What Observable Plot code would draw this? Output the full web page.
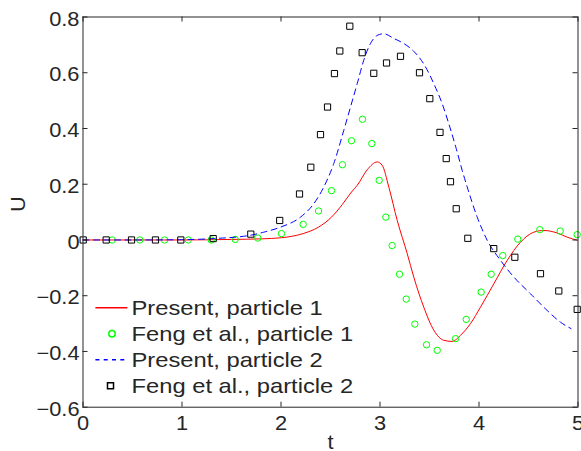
<!DOCTYPE html>
<html><head><meta charset="utf-8">
<script src="https://cdn.jsdelivr.net/npm/d3@7"></script>
<script src="https://cdn.jsdelivr.net/npm/@observablehq/plot@0.6"></script>
<style>html,body{margin:0;padding:0;background:#fff;}</style>
</head><body><div id="chart"></div>
<script>
// Present, particle 1 (red solid)
const redT = [0, 0.5, 1.0, 1.5, 1.8, 2.005, 2.224, 2.379, 2.51, 2.621, 2.712, 2.77, 2.871, 2.972, 3.022, 3.089, 3.174, 3.275, 3.341, 3.442, 3.544, 3.644, 3.729, 3.813, 3.914, 4.015, 4.15, 4.285, 4.419, 4.554, 4.655, 4.79, 4.891, 4.992];
const redU = [0, 0, 0.0, 0.002, 0.004, 0.008, 0.023, 0.046, 0.082, 0.128, 0.172, 0.196, 0.252, 0.28, 0.268, 0.19, 0.07, -0.049, -0.133, -0.241, -0.324, -0.36, -0.364, -0.342, -0.3, -0.241, -0.157, -0.073, -0.008, 0.028, 0.034, 0.025, 0.01, -0.001];
// Present, particle 2 (blue dashed)
const blueT = [0, 0.5, 1.0, 1.315, 1.692, 1.826, 1.995, 2.197, 2.331, 2.432, 2.533, 2.634, 2.702, 2.77, 2.836, 2.904, 2.972, 3.038, 3.139, 3.24, 3.341, 3.45, 3.543, 3.628, 3.695, 3.77, 3.83, 3.881, 3.982, 4.083, 4.217, 4.352, 4.52, 4.689, 4.823, 4.93];
const blueU = [0, 0, 0.001, 0.005, 0.017, 0.028, 0.046, 0.082, 0.13, 0.19, 0.274, 0.393, 0.477, 0.561, 0.645, 0.705, 0.734, 0.74, 0.723, 0.705, 0.677, 0.627, 0.561, 0.489, 0.417, 0.328, 0.25, 0.19, 0.082, -0.001, -0.073, -0.133, -0.193, -0.253, -0.295, -0.318];
// Feng et al., particle 1 (green circles)
const feng1T = [0.295, 0.574, 0.823, 1.063, 1.295, 1.537, 1.766, 2.005, 2.224, 2.379, 2.51, 2.621, 2.712, 2.823, 2.917, 2.992, 3.059, 3.123, 3.197, 3.265, 3.352, 3.47, 3.578, 3.763, 3.871, 4.022, 4.123, 4.24, 4.392, 4.614, 4.82, 4.992];
const feng1U = [0, 0, 0, 0, 0, 0.002, 0.007, 0.023, 0.056, 0.104, 0.177, 0.27, 0.356, 0.433, 0.346, 0.214, 0.082, -0.02, -0.123, -0.212, -0.302, -0.376, -0.396, -0.354, -0.285, -0.187, -0.123, -0.056, 0.003, 0.037, 0.032, 0.019];
// Feng et al., particle 2 (black squares)
const feng2T = [0.002, 0.234, 0.49, 0.732, 0.988, 1.315, 1.695, 1.987, 2.187, 2.301, 2.399, 2.47, 2.54, 2.594, 2.695, 2.82, 2.937, 3.066, 3.207, 3.399, 3.503, 3.606, 3.669, 3.712, 3.77, 3.887, 4.149, 4.362, 4.621, 4.806, 4.992];
const feng2U = [0, 0, 0, 0, 0, 0.005, 0.021, 0.07, 0.165, 0.261, 0.378, 0.477, 0.597, 0.678, 0.767, 0.672, 0.598, 0.635, 0.659, 0.6, 0.507, 0.386, 0.292, 0.209, 0.112, 0.006, -0.031, -0.062, -0.121, -0.183, -0.249];

const xTicks = [0, 1, 2, 3, 4, 5];
const yTicks = [-0.6, -0.4, -0.2, 0, 0.2, 0.4, 0.6, 0.8];
const legendLabels = ["Present, particle 1", "Feng et al., particle 1", "Present, particle 2", "Feng et al., particle 2"];
const xLabel = "t";
const yLabel = "U";

const zip = (T, U) => T.map((t, i) => ({t, u: U[i]}));
const red = zip(redT, redU), blue = zip(blueT, blueU);
const feng1 = zip(feng1T, feng1U), feng2 = zip(feng2T, feng2U);

const W = 581, H = 451, mL = 82.5, mR = 3.5, mT = 16.5, mB = 44.3;
const fw = W - mL - mR, fh = H - mT - mB;
const ink = "#262626";
const fmt = d => (d < 0 ? "\u2212" : "") + String(Math.abs(d));
const lineSym = {draw(ctx) { ctx.moveTo(-16, 0); ctx.lineTo(16, 0); }};
const rowDy = i => 290.8 + 26 * i;

const chart = Plot.plot({
  width: W, height: H,
  marginLeft: mL, marginRight: mR, marginTop: mT, marginBottom: mB,
  style: {fontFamily: "'Liberation Sans', Arial, sans-serif", fontSize: "20px", color: ink, background: "white"},
  x: {domain: [0, 5], label: null},
  y: {domain: [-0.6, 0.8], label: null},
  marks: [
    Plot.line(red, {x: "t", y: "u", stroke: "#ff0000", strokeWidth: 1, curve: "monotone-x"}),
    Plot.dot(feng1, {x: "t", y: "u", symbol: "circle", r: 3.2, stroke: "#00ff00", fill: "none", strokeWidth: 1}),
    Plot.line(blue, {x: "t", y: "u", stroke: "#0000ff", strokeWidth: 1, strokeDasharray: "6,4.5", curve: "monotone-x"}),
    Plot.dot(feng2, {x: "t", y: "u", symbol: "square", r: 3.5, stroke: "#000", fill: "none", strokeWidth: 1}),
    // ticks (inward, all four sides)
    Plot.tickX(xTicks, {x: d => d, insetTop: fh - 5, stroke: ink}),
    Plot.tickX(xTicks, {x: d => d, insetBottom: fh - 5, stroke: ink}),
    Plot.tickY(yTicks, {y: d => d, insetRight: fw - 5, stroke: ink}),
    Plot.tickY(yTicks, {y: d => d, insetLeft: fw - 5, stroke: ink}),
    Plot.frame({stroke: ink}),
    Plot.axisX(xTicks, {anchor: "bottom", tickSize: 0, tickPadding: 8.3, tickFormat: fmt, label: null}),
    Plot.axisY(yTicks, {anchor: "left", tickSize: 0, tickPadding: 3.5, dy: 2.3, tickFormat: fmt, label: null}),
    Plot.text([xLabel], {frameAnchor: "bottom", lineAnchor: "bottom", dy: 42, text: d => d}),
    Plot.text([yLabel], {frameAnchor: "left", rotate: -90, dx: -64.5, text: d => d}),
    // legend
    Plot.dot([0], {frameAnchor: "top-left", dx: 28.4, dy: rowDy(0), symbol: lineSym, stroke: "#ff0000", fill: "none"}),
    Plot.dot([0], {frameAnchor: "top-left", dx: 29, dy: rowDy(1), symbol: "circle", r: 3.2, stroke: "#00ff00", fill: "none"}),
    Plot.dot([0], {frameAnchor: "top-left", dx: 28.4, dy: rowDy(2), symbol: lineSym, stroke: "#0000ff", fill: "none", strokeDasharray: "4,4.3"}),
    Plot.dot([0], {frameAnchor: "top-left", dx: 27.5, dy: rowDy(3), symbol: "square", r: 3.4, stroke: "#000", fill: "none"}),
    ...legendLabels.map((lab, i) => Plot.text([lab], {frameAnchor: "top-left", textAnchor: "start", lineAnchor: "middle", dx: 48.5, dy: rowDy(i), fontSize: 21, className: "legend-label", text: d => d}))
  ]
});
document.getElementById("chart").append(chart);
// the reference's glyphs are slightly wider than Arial's; stretch text horizontally
chart.querySelectorAll("text").forEach(el => {
  if (el.querySelector("tspan")) return;
  const isLegend = !!el.closest(".legend-label");
  const stretch = isLegend ? 1.13 : 1.09;
  const L = el.getComputedTextLength();
  if (L > 0) {
    el.setAttribute("textLength", (L * stretch).toFixed(2));
    el.setAttribute("lengthAdjust", "spacingAndGlyphs");
  }
});
</script>
</body></html>
